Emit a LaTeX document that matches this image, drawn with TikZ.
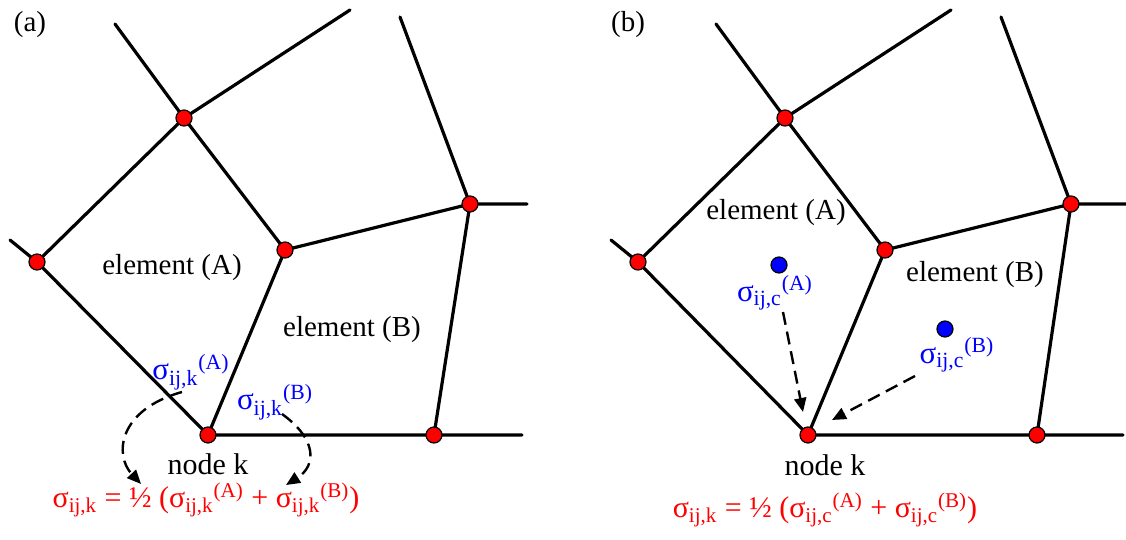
\documentclass[tikz,border=0pt]{standalone}
\usepackage{fontspec}
\setmainfont{Liberation Serif}
\usepackage{xcolor}
\usetikzlibrary{arrows.meta}
\definecolor{nodered}{HTML}{FF0000}
\definecolor{cblue}{HTML}{0000FF}
\newcommand{\sig}[2]{σ\textsubscript{ij,#1}\textsuperscript{(#2)}}
\tikzset{
  edge/.style  = {line width=1.6pt, line cap=round},
  vtx/.style   = {circle, draw=black, line width=0.6pt, fill=nodered,
                  minimum size=8pt, inner sep=0pt},
  cpt/.style   = {circle, draw=black, line width=0.6pt, fill=cblue,
                  minimum size=8pt, inner sep=0pt},
  lbl/.style   = {font=\fontsize{14.5}{17}\selectfont, inner sep=0pt},
  nlbl/.style  = {font=\fontsize{15}{18}\selectfont, inner sep=0pt},
  blbl/.style  = {font=\fontsize{15.5}{18}\selectfont, inner sep=0pt, text=cblue},
  rlbl/.style  = {font=\fontsize{15}{18}\selectfont, inner sep=0pt, text=nodered},
  darr/.style  = {-{Triangle[length=7pt,width=6pt]}, line width=1.2pt,
                  dash pattern=on 6.5pt off 3.5pt},
}

\begin{document}
\begin{tikzpicture}[x=0.5pt, y=-0.5pt]
  \useasboundingbox (0,0) rectangle (1126,540);
  % ---- panel (a)
  \node[lbl] (tagA) at (30,25) {(a)};
  \coordinate (a-t1) at (115,24);  \coordinate (a-t2) at (350,10);
  \coordinate (a-t3) at (400,17);  \coordinate (a-l)  at (10,240);
  \coordinate (a-r)  at (527,204); \coordinate (a-b)  at (522,435);
  \draw[edge] (a-t1) -- (184,118) coordinate (a1) -- (a-t2);
  \draw[edge] (a-l) -- (37,262) coordinate (a2) -- (208,435) coordinate (ak)
              -- (434,435) coordinate (a5) -- (a-b);
  \draw[edge] (a2) -- (a1) -- (285,250) coordinate (a3) -- (ak);
  \draw[edge] (a3) -- (470,204) coordinate (a4) -- (a-r);
  \draw[edge] (a-t3) -- (a4) -- (a5);
  \foreach \v in {a1,a2,a3,a4,ak,a5} \node[vtx] at (\v) {};
  \node[lbl] (elA) at (172,268) {element (A)};
  \node[lbl] (elB) at (352,330) {element (B)};
  \node[blbl] (skA) at (191,372) {\sig{k}{A}};
  \node[blbl] (skB) at (275,402) {\sig{k}{B}};
  \node[nlbl] (nk) at (208,464) {node k};
  \node[rlbl] (fa) at (206,500) {σ\textsubscript{ij,k} = ½ (\sig{k}{A} + \sig{k}{B})};
  \coordinate (ea) at (141,484); \coordinate (eb) at (286,485);
  \draw[darr] (182,392) .. controls (118,410) and (114,455) .. (ea);
  \draw[darr] (282,414) .. controls (318,440) and (316,466) .. (eb);
  % ---- panel (b)
  \node[lbl] (tagB) at (628,25) {(b)};
  \coordinate (b-t1) at (716,24);  \coordinate (b-t2) at (951,10);
  \coordinate (b-t3) at (1001,17); \coordinate (b-l)  at (611,240);
  \coordinate (b-r)  at (1126,204); \coordinate (b-b) at (1123,435);
  \draw[edge] (b-t1) -- (785,118) coordinate (b1) -- (b-t2);
  \draw[edge] (b-l) -- (638,262) coordinate (b2) -- (808,435) coordinate (bk)
              -- (1037,435) coordinate (b5) -- (b-b);
  \draw[edge] (b2) -- (b1) -- (885,250) coordinate (b3) -- (bk);
  \draw[edge] (b3) -- (1071,204) coordinate (b4) -- (b-r);
  \draw[edge] (b-t3) -- (b4) -- (b5);
  \foreach \v in {b1,b2,b3,b4,bk,b5} \node[vtx] at (\v) {};
  \node[lbl] (elA2) at (776,213) {element (A)};
  \node[lbl] (elB2) at (975,275) {element (B)};
  \node[cpt] (cA) at (779,265) {};
  \node[cpt] (cB) at (945,329) {};
  \node[blbl] (scA) at (775,293) {\sig{c}{A}};
  \node[blbl] (scB) at (957,355) {\sig{c}{B}};
  \node[nlbl] (nk2) at (825,465) {node k};
  \node[rlbl] (fb) at (825,510) {σ\textsubscript{ij,k} = ½ (\sig{c}{A} + \sig{c}{B})};
  \coordinate (ec) at (803,412); \coordinate (ed) at (832,420);
  \draw[darr] (783,312) -- (ec);
  \draw[darr] (915,376) -- (ed);
\end{tikzpicture}
\end{document}
